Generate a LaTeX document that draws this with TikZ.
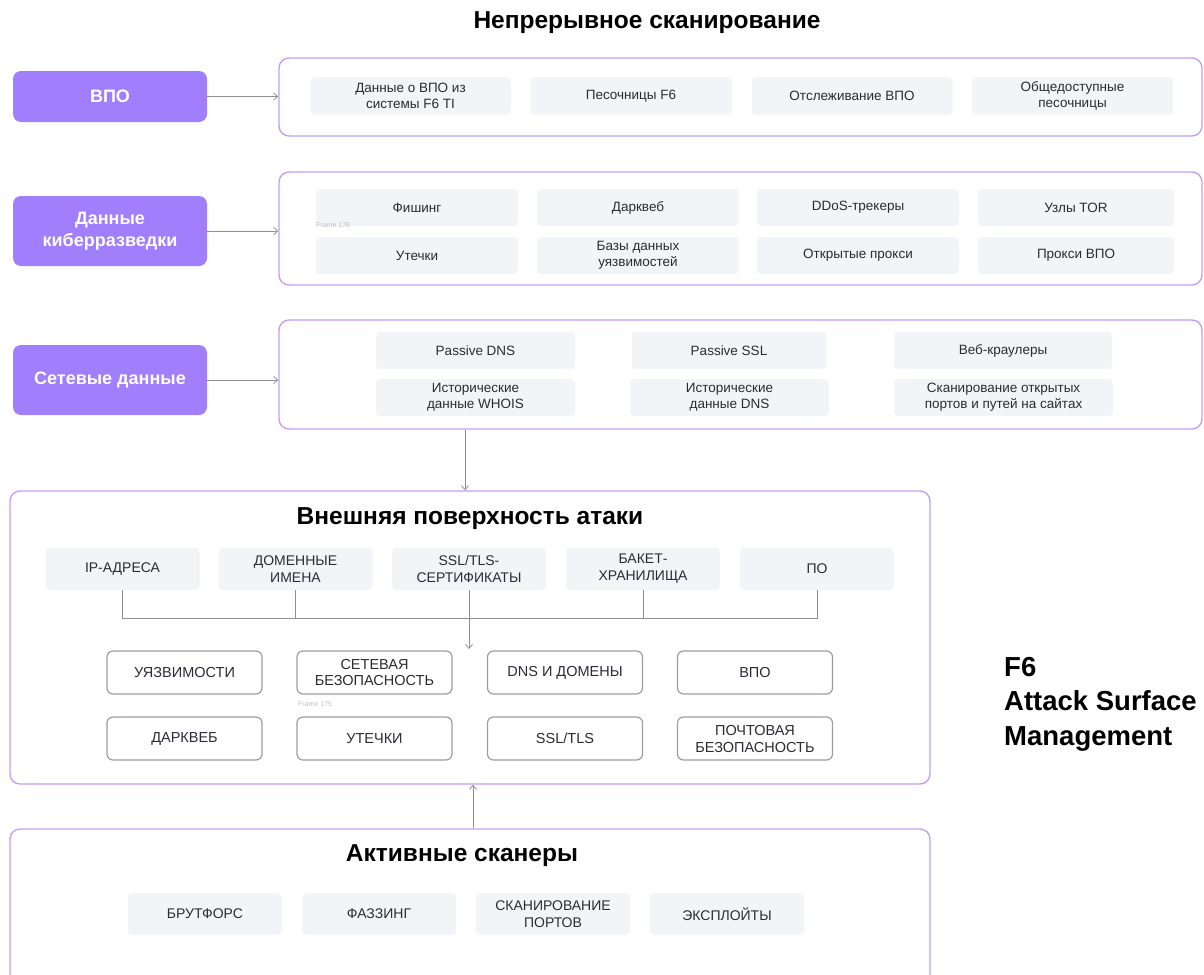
\documentclass[tikz,border=0pt]{standalone}
\usepackage{fontspec}
\setmainfont{Liberation Sans}
\usetikzlibrary{arrows.meta}

\definecolor{srcpurple}{HTML}{A07EFC}
\definecolor{framepurple}{HTML}{C49EF6}
\definecolor{itemgray}{HTML}{F3F4F7}
\definecolor{catgray}{HTML}{9C9CA8}
\definecolor{linegray}{HTML}{8F8F9C}
\definecolor{textdark}{HTML}{2B2B33}

\begin{document}
\begin{tikzpicture}[
                x=1pt, y=-1pt,
                >={Straight Barb[length=4pt,width=7pt]},
                src/.style={fill=srcpurple, rounded corners=8pt, text=white, align=center,
                            font=\bfseries\fontsize{18}{22}\selectfont, minimum width=194},
                frame/.style={draw=framepurple, line width=1.4pt, rounded corners=10pt},
                item/.style={fill=itemgray, rounded corners=4pt, align=center, text=textdark,
                             font=\fontsize{13.5}{16}\selectfont, inner sep=0pt},
                capsitem/.style={item, font=\fontsize{14}{17}\selectfont,
                                 minimum width=154, minimum height=42},
                cat/.style={draw=catgray, line width=1.2pt, rounded corners=6pt, fill=white,
                            align=center, text=textdark, font=\fontsize{14.5}{17}\selectfont,
                            minimum width=155, minimum height=43, inner sep=0pt},
                title/.style={font=\bfseries\fontsize{24.5}{28}\selectfont, text=black},
                tag/.style={font=\fontsize{7}{8}\selectfont, text=black!25, anchor=west, inner sep=0pt},
                flow/.style={->, draw=linegray, line width=0.8pt},
                link/.style={draw=linegray, line width=0.8pt}
                ]
            \useasboundingbox (0,0) rectangle (1204,974);
            \clip (0,0) rectangle (1204,974);
            % Titles
            \node[title] (tscan) at (647,23) {Непрерывное сканирование};
            \node[font=\bfseries\fontsize{27.5}{34.5}\selectfont, align=left, anchor=north west, inner sep=0pt]
                (brand) at (1004,657) {F6\\Attack Surface\\Management};
            % Sources
            \node[src, minimum height=51] (vpo) at (110,96.5) {ВПО};
            \node[src, minimum height=70] (kib) at (110,231) {Данные\\киберразведки};
            \node[src, minimum height=70] (net) at (110,380) {Сетевые данные};
            % Frames
            \node[frame, minimum width=923, minimum height=78] (fvpo) at (740.5,97) {};
            \node[frame, minimum width=923, minimum height=113] (fkib) at (740.5,228.5) {};
            \node[frame, minimum width=923, minimum height=109] (fnet) at (740.5,374.5) {};
            \node[frame, minimum width=920, minimum height=293] (ext) at (470,637.5) {};
            \node[frame, minimum width=920, minimum height=161] (act) at (470,909.5) {};
            % Frame 1
            \node[item, minimum width=201, minimum height=38] (m1) at (410.5,96) {Данные о ВПО из\\системы F6 TI};
            \node[item, minimum width=201, minimum height=38] (m2) at (631,96) {Песочницы F6};
            \node[item, minimum width=201, minimum height=38] (m3) at (852,96) {Отслеживание ВПО};
            \node[item, minimum width=201, minimum height=38] (m4) at (1072.5,96) {Общедоступные\\песочницы};
            % Frame 2
            \node[item, minimum width=202, minimum height=37] (k1) at (417,207.5) {Фишинг};
            \node[item, minimum width=202, minimum height=37] (k2) at (638,207.5) {Дарквеб};
            \node[item, minimum width=202, minimum height=37] (k3) at (858,207.5) {DDoS-трекеры};
            \node[item, minimum width=196, minimum height=37] (k4) at (1076,207.5) {Узлы TOR};
            \node[item, minimum width=202, minimum height=37] (k5) at (417,255.5) {Утечки};
            \node[item, minimum width=202, minimum height=37] (k6) at (638,255.5) {Базы данных\\уязвимостей};
            \node[item, minimum width=202, minimum height=37] (k7) at (858,255.5) {Открытые прокси};
            \node[item, minimum width=196, minimum height=37] (k8) at (1076,255.5) {Прокси ВПО};
            \node[tag] (f178) at (316,225) {Frame 178};
            % Frame 3
            \node[item, minimum width=199, minimum height=37] (n1) at (475.5,350.5) {Passive DNS};
            \node[item, minimum width=195, minimum height=37] (n2) at (729,350.5) {Passive SSL};
            \node[item, minimum width=218, minimum height=37] (n3) at (1003,350.5) {Веб-краулеры};
            \node[item, minimum width=199, minimum height=37] (n4) at (475.5,397.5) {Исторические\\данные WHOIS};
            \node[item, minimum width=199, minimum height=37] (n5) at (729.5,397.5) {Исторические\\данные DNS};
            \node[item, minimum width=219, minimum height=37] (n6) at (1003.5,397.5) {Сканирование открытых\\портов и путей на сайтах};
            % External surface
            \node[title] (text) at (470,519) {Внешняя поверхность атаки};
            \node[capsitem] (ip) at (122.5,569) {IP-АДРЕСА};
            \node[capsitem] (dom) at (295.5,569) {ДОМЕННЫЕ\\ИМЕНА};
            \node[capsitem] (ssl) at (469,569) {SSL/TLS-\\СЕРТИФИКАТЫ};
            \node[capsitem] (bak) at (643,569) {БАКЕТ-\\ХРАНИЛИЩА};
            \node[capsitem] (po) at (817,569) {ПО};
            \node[cat] (c1) at (184.5,672.5) {УЯЗВИМОСТИ};
            \node[cat] (c2) at (374.5,672.5) {СЕТЕВАЯ\\БЕЗОПАСНОСТЬ};
            \node[cat] (c3) at (565,672.5) {DNS И ДОМЕНЫ};
            \node[cat] (c4) at (755,672.5) {ВПО};
            \node[cat] (c5) at (184.5,738.5) {ДАРКВЕБ};
            \node[cat] (c6) at (374.5,738.5) {УТЕЧКИ};
            \node[cat] (c7) at (565,738.5) {SSL/TLS};
            \node[cat] (c8) at (755,738.5) {ПОЧТОВАЯ\\БЕЗОПАСНОСТЬ};
            \node[tag] (f175) at (298,704) {Frame 175};
            % Active scanners
            \node[title] (tact) at (462,856) {Активные сканеры};
            \node[capsitem] (a1) at (205,914) {БРУТФОРС};
            \node[capsitem] (a2) at (379,914) {ФАЗЗИНГ};
            \node[capsitem] (a3) at (553,914) {СКАНИРОВАНИЕ\\ПОРТОВ};
            \node[capsitem] (a4) at (727,914) {ЭКСПЛОЙТЫ};
            % Edges
            \coordinate (bus) at (470,618);
            \coordinate (hub) at (470,649);
            \path
            (vpo.east) edge[flow] (vpo.east -| fvpo.west)
            (kib.east) edge[flow] (kib.east -| fkib.west)
            (net.east) edge[flow] (net.east -| fnet.west)
            ([xshift=-5pt]ext.north |- fnet.south) edge[flow] ([xshift=-5pt]ext.north)
            ([xshift=3pt]act.north) edge[flow] ([xshift=3pt]ext.south)
            (ssl.south) edge[flow] (ssl.south |- hub);
            \draw[link] (ip.south) -- (ip.south |- bus) -- (po.south |- bus) -- (po.south);
            \draw[link] (dom.south) -- (dom.south |- bus);
            \draw[link] (bak.south) -- (bak.south |- bus);

            \end{tikzpicture}
\end{document}
